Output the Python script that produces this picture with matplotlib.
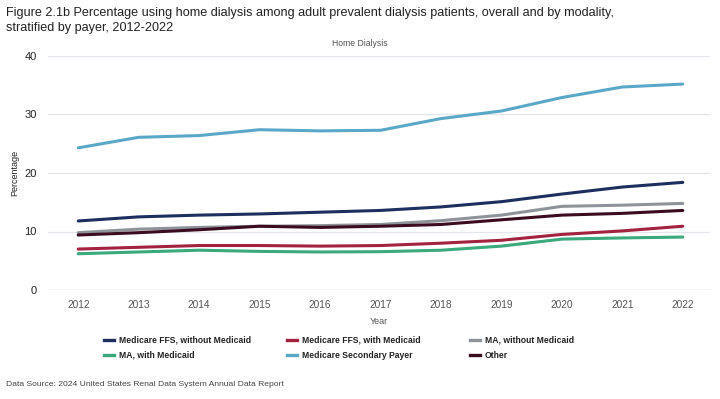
import numpy as np
import matplotlib
matplotlib.use('Agg')
import matplotlib.pyplot as plt
from matplotlib.lines import Line2D

plt.rcParams['font.family'] = ['Liberation Sans', 'DejaVu Sans']

# data
years = [2012, 2013, 2014, 2015, 2016, 2017, 2018, 2019, 2020, 2021, 2022]
ffs_no_mcd = [11.8, 12.5, 12.8, 13.0, 13.3, 13.6, 14.2, 15.1, 16.4, 17.6, 18.4]
ffs_mcd = [7.0, 7.3, 7.6, 7.6, 7.5, 7.6, 8.0, 8.5, 9.5, 10.1, 10.9]
ma_no_mcd = [9.8, 10.4, 10.7, 10.9, 11.0, 11.2, 11.85, 12.8, 14.3, 14.5, 14.8]
ma_mcd = [6.2, 6.5, 6.8, 6.6, 6.5, 6.55, 6.8, 7.5, 8.7, 8.9, 9.05]
msp = [24.3, 26.1, 26.4, 27.4, 27.2, 27.3, 29.3, 30.6, 32.9, 34.7, 35.2]
other = [9.4, 9.8, 10.3, 10.9, 10.7, 10.9, 11.2, 12.0, 12.8, 13.1, 13.6]

series = [
    ('Medicare FFS, without Medicaid', ffs_no_mcd, '#1d2f5e'),
    ('Medicare FFS, with Medicaid', ffs_mcd, '#a3223f'),
    ('MA, without Medicaid', ma_no_mcd, '#8e9299'),
    ('MA, with Medicaid', ma_mcd, '#3aa97c'),
    ('Medicare Secondary Payer', msp, '#5aa8c8'),
    ('Other', other, '#3b0b20'),
]
# draw order so dark lines sit on top like the original
draw_order = [4, 2, 5, 0, 1, 3]

W, H = 720, 399
fig = plt.figure(figsize=(W/100, H/100), dpi=100)
ax = fig.add_axes([48/W, 1-290/H, 662/W, 234/H])

for i in draw_order:
    name, vals, col = series[i]
    ax.plot(years, vals, color=col, linewidth=2.2, solid_capstyle='round', zorder=3)

ax.set_xlim(2011.5, 2022.45)
ax.set_ylim(0, 40)
ax.set_yticks([0, 10, 20, 30, 40])
ax.set_xticks(years)
ax.grid(axis='y', color='#e3e6ea', linewidth=0.9)
ax.set_axisbelow(True)
for s in ax.spines.values():
    s.set_visible(False)
ax.axhline(0, color='#d5dbe2', linewidth=1.0, zorder=1)
ax.tick_params(axis='both', length=0, colors='#222222')
ax.tick_params(axis='x', pad=7, labelsize=7.3, colors='#555555')
ax.tick_params(axis='y', pad=8, labelsize=8)
ax.set_xlabel('Year', fontsize=6.5, color='#555555', labelpad=5)
ax.set_ylabel('Percentage', fontsize=6.5, color='#222222')
ax.yaxis.set_label_coords(-29/662, 0.5)

fig.text(6/W, 1-13/H, 'Figure 2.1b Percentage using home dialysis among adult prevalent dialysis patients, overall and by modality,',
         fontsize=9.1, va='center', ha='left', color='#222222')
fig.text(6/W, 1-28/H, 'stratified by payer, 2012-2022', fontsize=9.1, va='center', ha='left', color='#222222')
fig.text(360/W, 1-44/H, 'Home Dialysis', fontsize=6.2, va='center', ha='center', color='#555555')

# legend: 3 columns, row-major like the original
col_x = [104, 287, 470]
row_y = [340, 355]
for k, (name, vals, col) in enumerate(series):
    x0 = col_x[k % 3]
    y0 = row_y[k // 3]
    fig.add_artist(Line2D([x0/W, (x0+10)/W], [1-y0/H, 1-y0/H], color=col,
                          linewidth=2.4, transform=fig.transFigure))
    fig.text((x0+15)/W, 1-y0/H, name, fontsize=6.2, fontweight='bold',
             va='center', ha='left', color='#222222')

fig.text(6/W, 1-385/H, 'Data Source: 2024 United States Renal Data System Annual Data Report',
         fontsize=6.1, va='center', ha='left', color='#444444')

fig.savefig('out.png', dpi=100)
